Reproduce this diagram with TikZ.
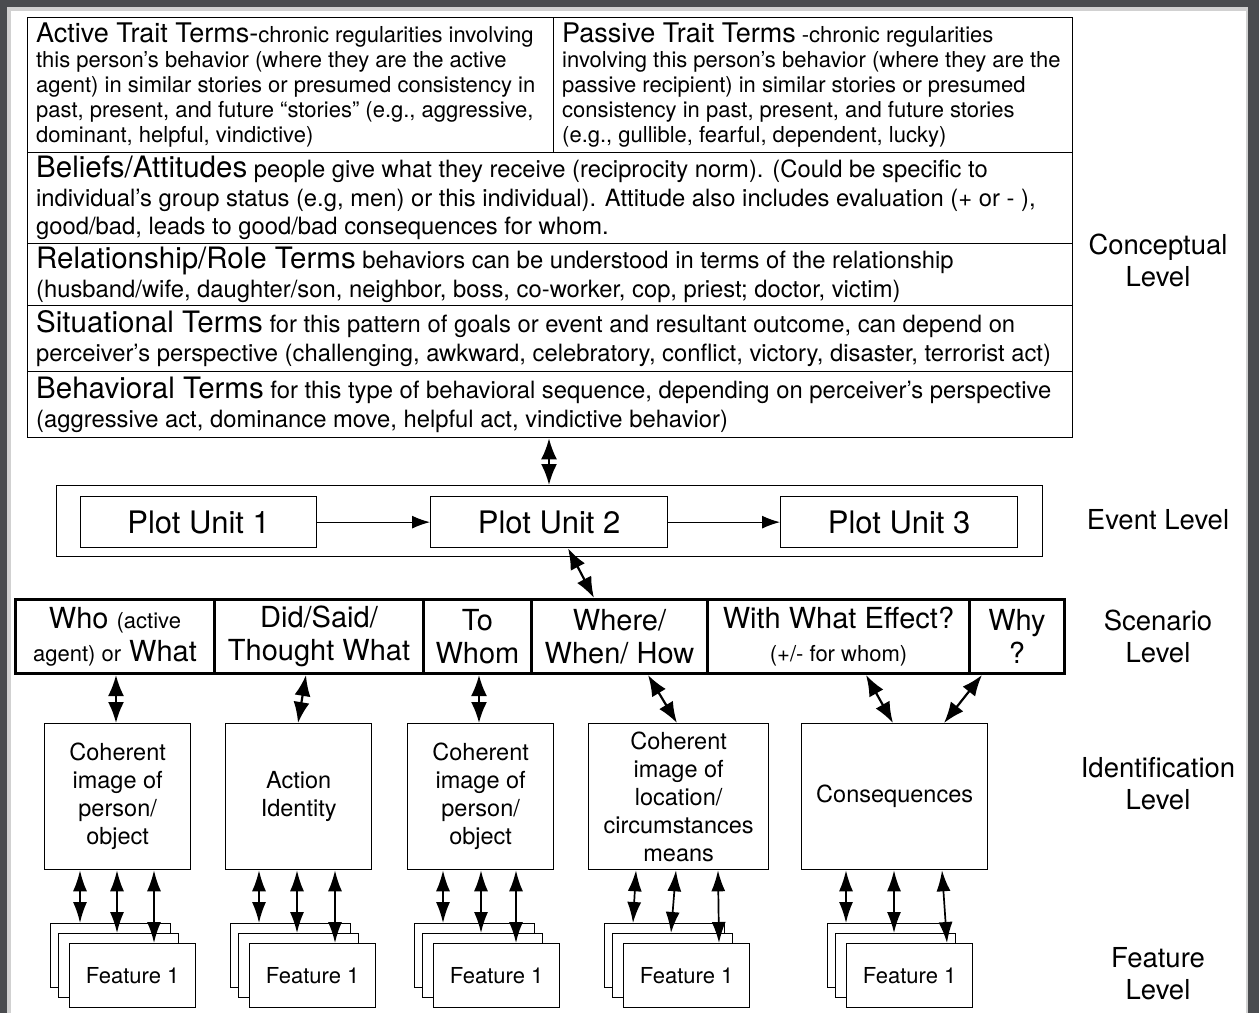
\documentclass[tikz,border=0pt]{standalone}
\usepackage{fontspec}
\setmainfont{TeX Gyre Heros}
\usetikzlibrary{positioning, arrows.meta}
\definecolor{framegray}{HTML}{4A4C4F}
\newcommand{\fsz}[2]{\fontsize{#1}{#2}\selectfont}

\begin{document}
\begin{tikzpicture}[x = 1pt, y = -1pt,
    box/.style = { draw, line width = 1.3pt, anchor = north west, inner sep = 0pt },
    txt/.style = { align = left, anchor = west, inner sep = 0pt },
    cell/.style = { draw, line width = 3pt, anchor = north west, minimum height = 74pt,
                    align = center, inner sep = 0pt, font = \fsz{29}{33} },
    idbox/.style = { draw, line width = 1.3pt, anchor = north west, minimum height = 146pt,
                     align = center, inner sep = 0pt, font = \fsz{23.5}{28} },
    card/.style = { draw, fill = white, line width = 1.3pt, anchor = north west,
                    minimum width = 120pt, minimum height = 64pt, font = \fsz{22}{26} },
    level/.style = { align = center, font = \fsz{27.5}{32} },
    biarrow/.style = { line width = 2.2pt, {Latex[length=21pt,width=16pt]}-{Latex[length=21pt,width=16pt]} },
    farrow/.style = { line width = 1.7pt, {Latex[length=21pt,width=14pt]}-{Latex[length=21pt,width=14pt]} },
    parrow/.style = { line width = 1.2pt, -{Latex[length=18pt,width=13pt]} }
  ]
  % frame
  \fill[framegray] (0,0) rectangle (1259,1013);
  \fill[black!18] (7,7) rectangle (1248,1013);
  \fill[white] (11,11) rectangle (1246,1013);
  \useasboundingbox (0,0) rectangle (1259,1013);

  % conceptual level
  \node[box, minimum width = 526pt, minimum height = 135pt] (active) at (27,17) {};
  \node[box, minimum width = 519pt, minimum height = 135pt] (passive) at (553,17) {};
  \node[box, minimum width = 1045pt, minimum height = 91pt] (beliefs) at (27,152) {};
  \node[box, minimum width = 1045pt, minimum height = 62pt] (relation) at (27,243) {};
  \node[box, minimum width = 1045pt, minimum height = 66pt] (situation) at (27,305) {};
  \node[box, minimum width = 1045pt, minimum height = 66pt] (behavior) at (27,371) {};

  \node[txt, font = \fsz{22}{25}] at ([xshift = 9pt] active.west)
    {{\fsz{27}{25}Active Trait Terms-}chronic regularities involving\\
     this person’s behavior (where they are the active\\
     agent) in similar stories or presumed consistency in\\
     past, present, and future “stories” (e.g., aggressive,\\
     dominant, helpful, vindictive)};
  \node[txt, font = \fsz{22}{25}] at ([xshift = 9pt] passive.west)
    {{\fsz{27}{25}Passive Trait Terms} -chronic regularities\\
     involving this person’s behavior (where they are the\\
     passive recipient) in similar stories or presumed\\
     consistency in past, present, and future stories\\
     (e.g., gullible, fearful, dependent, lucky)};
  \node[txt, font = \fsz{23.8}{28.5}] at ([xshift = 9pt] beliefs.west)
    {{\fsz{29.5}{28.5}Beliefs/Attitudes} people give what they receive (reciprocity norm). (Could be specific to\\
     individual’s group status (e.g, men) or this individual). Attitude also includes evaluation (+ or - ),\\
     good/bad, leads to good/bad consequences for whom.};
  \node[txt, font = \fsz{23.8}{28.5}] at ([xshift = 9pt] relation.west)
    {{\fsz{29.5}{28.5}Relationship/Role Terms} behaviors can be understood in terms of the relationship\\
     (husband/wife, daughter/son, neighbor, boss, co-worker, cop, priest; doctor, victim)};
  \node[txt, font = \fsz{23.8}{28.5}] at ([xshift = 9pt] situation.west)
    {{\fsz{29.5}{28.5}Situational Terms} for this pattern of goals or event and resultant outcome, can depend on\\
     perceiver’s perspective (challenging, awkward, celebratory, conflict, victory, disaster, terrorist act)};
  \node[txt, font = \fsz{23.8}{28.5}] at ([xshift = 9pt] behavior.west)
    {{\fsz{29.5}{28.5}Behavioral Terms} for this type of behavioral sequence, depending on perceiver’s perspective\\
     (aggressive act, dominance move, helpful act, vindictive behavior)};

  % event level
  \node[box, minimum width = 986pt, minimum height = 71pt] (event) at (56,485) {};
  \node[box, minimum width = 236pt, minimum height = 51pt, font = \fsz{31}{36}] (pu1) at (80,496) {Plot Unit 1};
  \node[box, minimum width = 237pt, minimum height = 51pt, font = \fsz{31}{36}] (pu2) at (430,496) {Plot Unit 2};
  \node[box, minimum width = 237pt, minimum height = 51pt, font = \fsz{31}{36}] (pu3) at (780,496) {Plot Unit 3};
  \draw[parrow] (pu1) -- (pu2);
  \draw[parrow] (pu2) -- (pu3);
  \draw[biarrow] (behavior.south -| 549,0) -- (event.north -| 549,0);

  % scenario level
  \node[cell, minimum width = 199pt] (who) at (14,598)
    {Who {\fsz{22}{33}(active}\\{\fsz{22}{33}agent) or} What};
  \node[cell, minimum width = 209pt] (did) at (213,598) {Did/Said/\\Thought What};
  \node[cell, minimum width = 108pt] (whom) at (422,598) {To\\Whom};
  \node[cell, minimum width = 176pt] (where) at (530,598) {Where/\\When/ How};
  \node[cell, minimum width = 262pt] (effect) at (706,598)
    {With What Effect?\\{\fsz{22}{33}(+/- for whom)}};
  \node[cell, minimum width = 95pt] (why) at (968,598) {Why\\?};
  \draw[biarrow] (pu2.south -| 568,0) -- (where.north -| 594,0);

  % identification level
  \node[idbox, minimum width = 146pt] (idA) at (44,723) {Coherent\\image of\\person/\\object};
  \node[idbox, minimum width = 146pt] (idB) at (225,723) {Action\\Identity};
  \node[idbox, minimum width = 146pt] (idC) at (407,723) {Coherent\\image of\\person/\\object};
  \node[idbox, minimum width = 180pt] (idD) at (588,723) {Coherent\\image of\\location/\\circumstances\\means};
  \node[idbox, minimum width = 186pt] (idE) at (801,723) {Consequences};

  \draw[biarrow] (who.south -| 116,0) -- (idA.north -| 116,0);
  \draw[biarrow] (did.south -| 306,0) -- (idB.north -| 298,0);
  \draw[biarrow] (whom.south -| 479,0) -- (idC.north -| 479,0);
  \draw[biarrow] (where.south -| 648,0) -- (idD.north -| 677,0);
  \draw[biarrow] (effect.south -| 866,0) -- (idE.north -| 893,0);
  \draw[biarrow] (why.south -| 982,0) -- (idE.north -| 944,0);

  % feature level
  \foreach \n/\fx/\xa/\xb/\xc/\xd/\xe/\xf in {A/69/80/80/117/117/154/154, B/249/259/259/297/297/335/335,
      C/433/443/443/481/481/516/516, D/623/636/633/676/671/718/719, E/846/846/846/894/894/942/947} {
    \node[card] (back\n) at (\fx-19,923) {};
    \node[card] (mid\n) at (\fx-11,933) {};
    \node[card, minimum width = 126pt] (feat\n) at (\fx,943) {Feature 1};
    \draw[farrow] (id\n.south -| \xa,0) -- (back\n.north -| \xb,0);
    \draw[farrow] (id\n.south -| \xc,0) -- (mid\n.north -| \xd,0);
    \draw[farrow] (id\n.south -| \xe,0) -- (feat\n.north -| \xf,0);
  }

  % level labels
  \node[level] (lconc) at (1158,260) {Conceptual\\Level};
  \node[level] (levent) at (1158,520) {Event Level};
  \node[level] (lscen) at (1158,636) {Scenario\\Level};
  \node[level] (lident) at (1158,784) {Identification\\Level};
  \node[level] (lfeat) at (1158,974) {Feature\\Level};
\end{tikzpicture}
\end{document}
